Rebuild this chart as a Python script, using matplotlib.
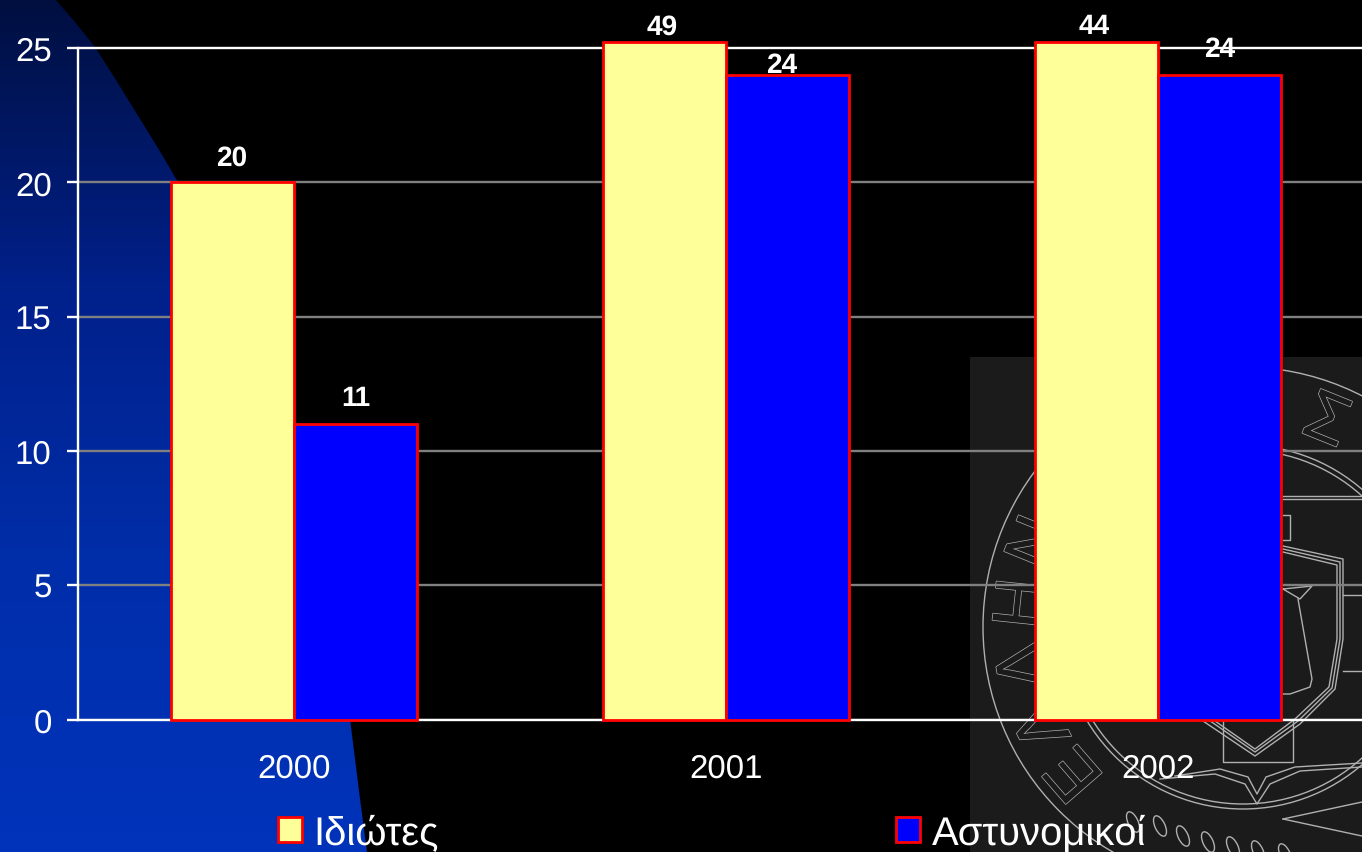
import numpy as np
import matplotlib
matplotlib.use('Agg')
import matplotlib.pyplot as plt
import matplotlib.patheffects as pe
from matplotlib.patches import Polygon, Rectangle, Circle, Ellipse

plt.rcParams['font.family'] = ['Liberation Sans', 'DejaVu Sans']
plt.rcParams['text.hinting'] = 'none'
plt.rcParams['text.hinting_factor'] = 1

# chart values
years = ['2000', '2001', '2002']
idiotes = [20, 49, 44]
astynomikoi = [11, 24, 24]
y_ticks = [0, 5, 10, 15, 20, 25]
series_names = ['Ιδιώτες', 'Αστυνομικοί']

# background shapes, in picture pixels
curve_x = [55, 75, 95, 116, 137, 158, 178, 220, 258, 290, 318, 340, 350, 360, 367]
curve_y = [0, 23, 48, 81, 115, 149, 183, 260, 345, 440, 540, 640, 720, 800, 853]
seal_letters = ['Ε', 'Λ', 'Λ', 'Η', 'Ν', 'Σ']
seal_angles = [221, 206, 190, 174, 158, 68]
leaf_x = [1133, 1160, 1183, 1208, 1233, 1258, 1285]
leaf_y = [823, 827, 837, 843, 848, 852, 855]

W, H = 1362, 853
fig = plt.figure(figsize=(W / 100, H / 100), dpi=100, facecolor='black')

# background layer
bg = fig.add_axes([0, 0, 1, 1], zorder=0)
bg.set_xlim(0, W)
bg.set_ylim(H, 0)
bg.axis('off')

grad = np.linspace(0, 1, 256).reshape(-1, 1)
cmap = matplotlib.colors.LinearSegmentedColormap.from_list('bl', ['#000f40', '#00208a', '#002eaa', '#0033bb'])
im = bg.imshow(grad, cmap=cmap, extent=(0, 400, H, 0), aspect='auto', zorder=1)
blue = Polygon(list(zip(curve_x, curve_y)) + [(0, H), (0, 0)], closed=True, transform=bg.transData,
               facecolor='none', edgecolor='none')
bg.add_patch(blue)
im.set_clip_path(blue)
bg.set_xlim(0, W)
bg.set_ylim(H, 0)

# seal image in the bottom right corner
seal_bg = '#1b1b1b'
seal_line = '#b0b0b0'
box = Rectangle((970, 358), W - 970, H - 358, facecolor=seal_bg, edgecolor='none', zorder=1)
bg.add_patch(box)

cx, cy = 1243, 628
for r in [260, 182, 177]:
    c = Circle((cx, cy), r, fill=False, edgecolor=seal_line, lw=1.0, zorder=2)
    bg.add_patch(c)
    c.set_clip_path(box)

for letter, ang in zip(seal_letters, seal_angles):
    a = np.radians(ang)
    bg.text(cx + 220 * np.cos(a), cy - 220 * np.sin(a), letter, fontsize=50, color=seal_bg,
            rotation=ang - 90, ha='center', va='center', rotation_mode='anchor', zorder=2,
            path_effects=[pe.withStroke(linewidth=1.0, foreground=seal_line)], clip_on=True)

# shield, book and scales
for xs, ys in [
    ([1283, 1343, 1343, 1335, 1300, 1255, 1200], [547, 560, 640, 690, 725, 757, 720]),
    ([1283, 1340, 1340, 1332, 1298, 1255, 1203], [550, 563, 640, 689, 722, 753, 717]),
    ([1283, 1337, 1337, 1329, 1295, 1255, 1205], [553, 566, 640, 688, 720, 750, 715]),
    ([1223, 1223, 1293, 1293], [720, 763, 763, 720]),
    ([1160, 1215, 1245, 1257, 1270, 1300, 1362], [780, 775, 785, 805, 785, 772, 768]),
    ([1175, 1220, 1248, 1257, 1266, 1295, 1362], [777, 770, 778, 795, 778, 768, 764]),
    ([1283, 1362], [497, 497]),
    ([1283, 1362], [500, 500]),
    ([1283, 1362], [820, 837]),
    ([1283, 1362], [820, 803]),
    ([1283, 1312, 1300, 1283], [590, 587, 600, 590]),
    ([1298, 1312, 1310, 1290, 1283], [600, 680, 688, 695, 695]),
    ([1343, 1362], [596, 596]),
    ([1343, 1362], [672, 672]),
    ([1283, 1290, 1290, 1283], [516, 516, 541, 541]),
]:
    l, = bg.plot(xs, ys, color=seal_line, lw=1.0, zorder=2)
    l.set_clip_path(box)

for lx, ly in zip(leaf_x, leaf_y):
    e = Ellipse((lx, ly), 10, 22, angle=-25, fill=False, edgecolor=seal_line, lw=1.0, zorder=2)
    bg.add_patch(e)
    e.set_clip_path(box)
bg.set_xlim(0, W)
bg.set_ylim(H, 0)

# chart layer, runs off the right side of the picture
left, right, top, bottom = 78, 1374, 43, 720.5
ax = fig.add_axes([left / W, (H - bottom) / H, (right - left) / W, (bottom - top) / H], zorder=1)
ax.patch.set_visible(False)

px_per_unit = (719.5 - 48) / 25
y_top = 25 + 6 / px_per_unit
ax.set_xlim(-0.5, 2.5)
ax.set_ylim(0, y_top)

x = np.arange(len(years))
w = 0.285
bars1 = ax.bar(x - w / 2, np.minimum(idiotes, y_top), w, color='#ffff99', edgecolor='#ff0000',
               linewidth=2.0, zorder=3, clip_on=False, label=series_names[0])
bars2 = ax.bar(x + w / 2, np.minimum(astynomikoi, y_top), w, color='#0000ff', edgecolor='#ff0000',
               linewidth=2.0, zorder=3, clip_on=False, label=series_names[1])

# value labels, pixel nudges as in the original slide
nudge1 = [(-1, 25), (-2, 16), (-2, 16)]
nudge2 = [(0, 26), (-6, 10), (0, 26)]
for xs, vals, nudges in [(x - w / 2, idiotes, nudge1), (x + w / 2, astynomikoi, nudge2)]:
    for xi, v, (dx, dy) in zip(xs, vals, nudges):
        ax.annotate(str(v), (xi, min(v, y_top)), xytext=(dx, dy), textcoords='offset pixels',
                    ha='center', va='center', color='white', fontsize=20.5, fontweight='bold',
                    annotation_clip=False, zorder=5)

# axes styling
ax.set_yticks(y_ticks)
ax.set_xticks(x)
ax.set_xticklabels(years)
ax.tick_params(axis='x', length=0, pad=24, labelsize=23.5, colors='white')
ax.tick_params(axis='y', length=8, width=1.7, pad=11, labelsize=23.5, colors='white')
for name in ['top', 'right']:
    ax.spines[name].set_visible(False)
for name in ['left', 'bottom']:
    ax.spines[name].set_color('white')
    ax.spines[name].set_linewidth(1.7)
ax.spines['left'].set_bounds(0, 25)
ax.grid(axis='y', color='#808080', linewidth=1.7, zorder=1)
ax.set_axisbelow(True)
ax.get_ygridlines()[-1].set_color('white')

leg = ax.legend(handles=[bars1, bars2], loc='lower left', ncol=2, frameon=False,
                bbox_to_anchor=(278 / W, 0.0), bbox_transform=fig.transFigure,
                fontsize=28.5, labelcolor='white', borderpad=0, borderaxespad=0,
                handlelength=0.6, handleheight=0.6, handletextpad=0.3, columnspacing=11.55)

fig.savefig('out.png', dpi=100, facecolor='black')
